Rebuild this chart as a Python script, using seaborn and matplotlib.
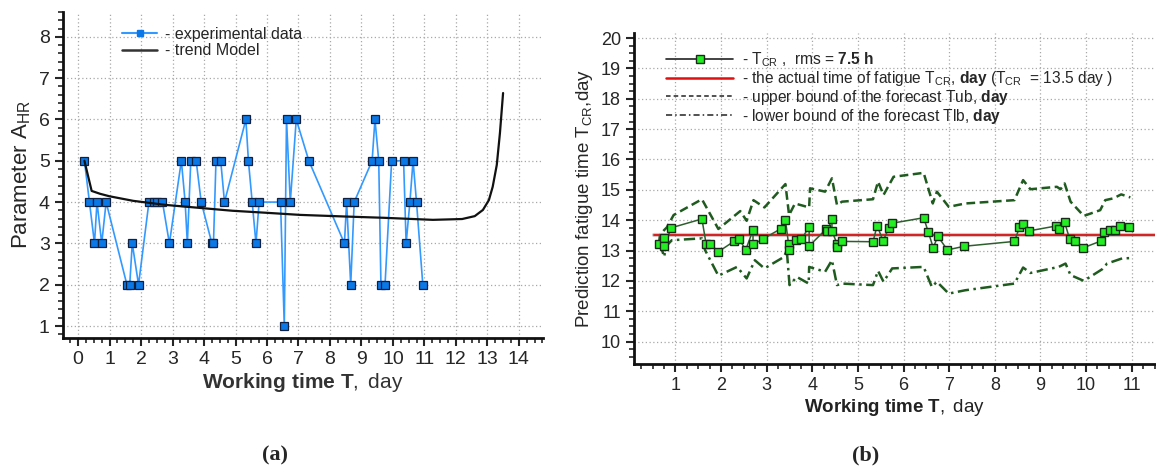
import matplotlib
matplotlib.use("Agg")
import matplotlib.pyplot as plt
import matplotlib.ticker as mticker
from matplotlib.lines import Line2D
import seaborn as sns

# (a) experimental data and trend model
exp_t = [0.2, 0.36, 0.52, 0.6, 0.75, 0.89, 1.55, 1.64, 1.72, 1.92, 2.25, 2.41, 2.52, 2.68,
         2.9, 3.28, 3.4, 3.47, 3.58, 3.75, 3.91, 4.25, 4.3, 4.38, 4.53, 4.65, 5.33, 5.41,
         5.53, 5.65, 5.75, 6.43, 6.55, 6.62, 6.74, 6.93, 7.33, 8.46, 8.53, 8.66, 8.77, 9.34,
         9.43, 9.55, 9.62, 9.75, 9.96, 10.34, 10.42, 10.54, 10.64, 10.75, 10.95]
exp_v = [5, 4, 3, 4, 3, 4, 2, 2, 3, 2, 4, 4, 4, 4, 3, 5, 4, 3, 5, 5, 4, 3, 3, 5, 5, 4, 6, 5,
         4, 3, 4, 4, 1, 6, 4, 6, 5, 3, 4, 2, 4, 5, 6, 5, 2, 2, 5, 5, 3, 4, 5, 4, 2]

trend_t = [0.2, 0.43, 0.7, 1.0, 1.75, 2.8, 4.0, 4.9, 6.0, 7.05, 8.5, 9.7, 11.27, 12.2,
           12.6, 12.86, 13.05, 13.17, 13.3, 13.4, 13.5]
trend_v = [5.0, 4.27, 4.2, 4.14, 4.03, 3.93, 3.85, 3.79, 3.74, 3.69, 3.65, 3.62, 3.57, 3.59,
           3.66, 3.81, 4.05, 4.37, 4.9, 5.67, 6.64]

# (b) predicted fatigue time and forecast bounds
tcr_t = [0.64, 0.75, 0.75, 0.91, 1.58, 1.67, 1.75, 1.94, 2.29, 2.40, 2.54, 2.70, 2.70, 2.92,
         3.31, 3.41, 3.48, 3.49, 3.64, 3.76, 3.93, 3.93, 4.30, 4.33, 4.43, 4.43, 4.54, 4.54,
         4.65, 5.33, 5.42, 5.55, 5.68, 5.75, 6.44, 6.54, 6.65, 6.75, 6.96, 7.33, 8.43, 8.54,
         8.62, 8.76, 9.35, 9.41, 9.53, 9.64, 9.75, 9.94, 10.32, 10.40, 10.53, 10.64, 10.75, 10.95]
tcr_v = [13.22, 13.40, 13.14, 13.75, 14.04, 13.23, 13.23, 12.96, 13.31, 13.37, 13.02, 13.68,
         13.20, 13.38, 13.72, 14.01, 13.20, 13.02, 13.34, 13.37, 13.78, 13.15, 13.70, 13.63,
         14.05, 13.64, 13.23, 13.12, 13.30, 13.29, 13.82, 13.32, 13.75, 13.90, 14.08, 13.62,
         13.09, 13.47, 13.02, 13.14, 13.30, 13.76, 13.89, 13.65, 13.81, 13.72, 13.93, 13.38,
         13.32, 13.09, 13.31, 13.60, 13.66, 13.66, 13.81, 13.77]

ub_t = [0.64, 0.66, 0.75, 0.81, 0.96, 1.58, 1.94, 2.42, 2.56, 2.71, 2.95, 3.41, 3.49, 3.62,
        3.93, 3.95, 4.28, 4.43, 4.54, 4.65, 5.33, 5.44, 5.56, 5.78, 6.44, 6.64, 6.73, 6.99,
        7.35, 8.43, 8.62, 8.78, 9.36, 9.44, 9.53, 9.66, 9.95, 10.31, 10.42, 10.60, 10.77, 10.97]
ub_v = [13.25, 13.51, 13.67, 13.76, 14.17, 14.69, 13.71, 14.30, 13.98, 14.66, 14.42, 15.19,
        14.17, 14.55, 14.42, 15.05, 14.94, 15.38, 14.50, 14.61, 14.69, 15.27, 14.83, 15.43,
        15.56, 14.55, 14.94, 14.44, 14.55, 14.66, 15.32, 15.02, 15.10, 15.02, 15.21, 14.61,
        14.14, 14.33, 14.66, 14.72, 14.85, 14.75]

lb_t = [0.64, 0.70, 0.75, 0.80, 0.92, 1.58, 1.65, 1.94, 2.35, 2.56, 2.74, 2.95, 3.38, 3.44,
        3.50, 3.66, 3.92, 3.93, 4.28, 4.43, 4.54, 4.65, 5.33, 5.44, 5.56, 5.75, 6.44, 6.62,
        6.73, 6.99, 7.35, 8.43, 8.62, 8.78, 9.40, 9.55, 9.66, 9.95, 10.35, 10.46, 10.79, 10.97]
lb_v = [13.23, 13.05, 12.79, 13.15, 13.34, 13.40, 13.01, 12.17, 12.46, 12.08, 12.68, 12.41,
        12.79, 13.01, 11.86, 12.13, 11.91, 12.46, 12.30, 12.68, 11.86, 11.91, 11.86, 12.33,
        11.97, 12.41, 12.46, 11.80, 11.97, 11.58, 11.69, 11.91, 12.44, 12.26, 12.46, 12.57,
        12.19, 12.00, 12.38, 12.57, 12.74, 12.75]

t_actual = 13.5


sns.set_style("ticks")
plt.rcParams["font.family"] = ["Liberation Sans", "DejaVu Sans"]
plt.rcParams["mathtext.fontset"] = "custom"
plt.rcParams["mathtext.rm"] = "Liberation Sans"
plt.rcParams["mathtext.bf"] = "Liberation Sans:bold"
plt.rcParams["mathtext.it"] = "Liberation Sans:italic"

fig = plt.figure(figsize=(11.56, 4.71), dpi=100)
ax1 = fig.add_axes([0.0545, 0.2824, 0.415, 0.692])
ax2 = fig.add_axes([0.5484, 0.2272, 0.4507, 0.7028])

grid_kw = dict(color="#a8a8a8", linestyle=(0, (1, 2)), linewidth=0.9)

# ---- (a)
sns.lineplot(x=exp_t, y=exp_v, ax=ax1, sort=False, estimator=None, color="#3399ff",
             linewidth=1.2, marker="s", markersize=6, markerfacecolor="#0a78e6",
             markeredgecolor="#102040", markeredgewidth=0.9, zorder=3)
sns.lineplot(x=trend_t, y=trend_v, ax=ax1, sort=False, estimator=None, color="#111111",
             linewidth=1.6, zorder=4)
ax1.set_xlim(-0.48, 14.76)
ax1.set_ylim(0.71, 8.6)
ax1.xaxis.set_major_locator(mticker.MultipleLocator(1))
ax1.xaxis.set_minor_locator(mticker.MultipleLocator(0.25))
ax1.yaxis.set_major_locator(mticker.MultipleLocator(1))
ax1.yaxis.set_minor_locator(mticker.MultipleLocator(0.2))
ax1.grid(True, which="major", **grid_kw)
ax1.tick_params(axis="both", which="major", labelsize=14, length=6, width=1.5)
ax1.tick_params(axis="both", which="minor", length=3.5, width=1.2)
ax1.set_ylabel(r"Parameter A$_{\mathrm{HR}}$", fontsize=16, labelpad=4)
ax1.set_xlabel(r"Working time T$\mathrm{,\ day}$", fontsize=15, fontweight="bold",
               color="#333333", labelpad=2)
h1 = [Line2D([], [], color="#3399ff", linewidth=1.5, marker="s", markersize=5,
             markerfacecolor="#0a78e6", markeredgecolor="#0a78e6"),
      Line2D([], [], color="#333333", linewidth=1.8)]
ax1.legend(h1, ["- experimental data", "- trend Model"], loc="upper left",
           bbox_to_anchor=(0.11, 0.975), frameon=False, fontsize=11.5,
           handlelength=2.2, handletextpad=0.5, labelspacing=0.1, borderaxespad=0)

# ---- (b)
green = "#1f5a1f"
sns.lineplot(x=ub_t, y=ub_v, ax=ax2, sort=False, estimator=None, color=green,
             linewidth=1.8, linestyle=(0, (3.5, 1.8)), zorder=2)
sns.lineplot(x=lb_t, y=lb_v, ax=ax2, sort=False, estimator=None, color=green,
             linewidth=1.8, linestyle=(0, (4.5, 1.8, 1, 1.8)), zorder=2)
ax2.axhline(t_actual, xmin=(0.53 - 0.09) / (11.51 - 0.09), xmax=1, color="#d42020",
            linewidth=1.4, zorder=3)
ax2.axhline(t_actual, xmin=(0.53 - 0.09) / (11.51 - 0.09), xmax=1, color="#8a5a5a",
            linewidth=3, alpha=0.35, zorder=2.9)
sns.lineplot(x=tcr_t, y=tcr_v, ax=ax2, sort=False, estimator=None, color="#2d5f2d",
             linewidth=1.1, marker="s", markersize=6, markerfacecolor="#22ee22",
             markeredgecolor="#1a2a1a", markeredgewidth=1.0, zorder=4)
ax2.set_xlim(0.09, 11.51)
ax2.set_ylim(9.26, 20.17)
ax2.xaxis.set_major_locator(mticker.MultipleLocator(1))
ax2.xaxis.set_minor_locator(mticker.MultipleLocator(0.25))
ax2.yaxis.set_major_locator(mticker.MultipleLocator(1))
ax2.yaxis.set_minor_locator(mticker.MultipleLocator(0.25))
ax2.set_xticks(range(1, 12))
ax2.set_yticks(range(10, 21))
ax2.grid(True, which="major", **grid_kw)
ax2.tick_params(axis="both", which="major", labelsize=13, length=6, width=1.5)
ax2.tick_params(axis="both", which="minor", length=3.5, width=1.2)
ax2.set_ylabel(r"Prediction fatigue time T$_{\mathrm{CR}}$,day", fontsize=13.5, labelpad=4)
ax2.set_xlabel(r"Working time T$\mathrm{,\ day}$", fontsize=13.5, fontweight="bold",
               color="#222222", labelpad=2)
h2 = [Line2D([], [], color="#222222", linewidth=1.2, marker="s", markersize=6,
             markerfacecolor="#22ee22", markeredgecolor="#1a2a1a"),
      Line2D([], [], color="#e01010", linewidth=1.8),
      Line2D([], [], color="#222222", linewidth=1.1, linestyle=(0, (3, 2))),
      Line2D([], [], color="#222222", linewidth=1.1, linestyle=(0, (4, 2, 1, 2)))]
labels2 = [r"- T$_{\mathrm{CR}}$ ,  rms = $\mathbf{7.5\ h}$",
           r"- the actual time of fatigue T$_{\mathrm{CR}}$, $\mathbf{day}$ "
           r"(T$_{\mathrm{CR}}$  = 13.5 day )",
           r"- upper bound of the forecast Tub, $\mathbf{day}$",
           r"- lower bound of the forecast Tlb, $\mathbf{day}$"]
ax2.legend(h2, labels2, loc="upper left", bbox_to_anchor=(0.05, 0.965), frameon=False,
           fontsize=11.2, handlelength=4.3, handletextpad=0.6, labelspacing=-0.02,
           borderaxespad=0)

for ax in (ax1, ax2):
    sns.despine(ax=ax)
    for s in ("left", "bottom"):
        ax.spines[s].set_linewidth(2)
        ax.spines[s].set_color("#111111")

fig.text(0.238, 0.033, "(a)", fontsize=16, family="Liberation Serif", fontweight="bold",
         ha="center", va="center")
fig.text(0.749, 0.033, "(b)", fontsize=16, family="Liberation Serif", fontweight="bold",
         ha="center", va="center")

fig.savefig("out.png", dpi=100)
